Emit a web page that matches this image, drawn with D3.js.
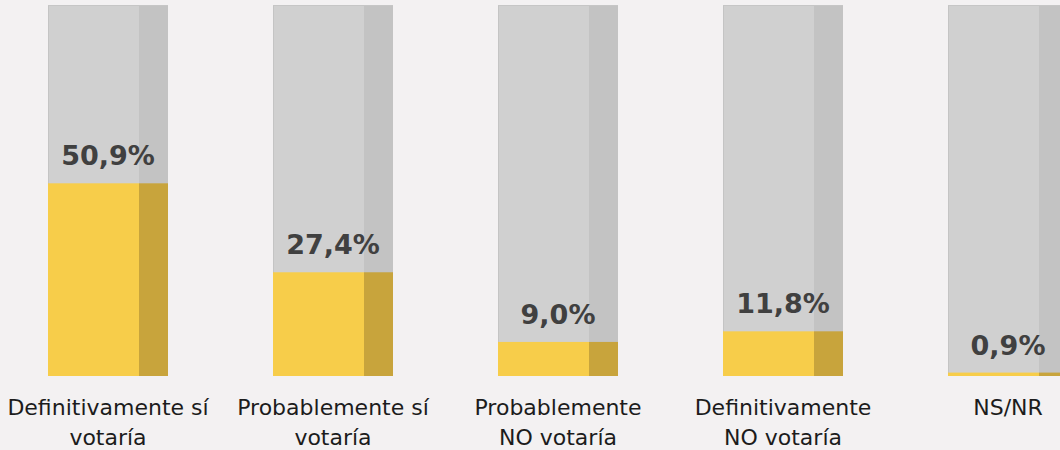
<!DOCTYPE html>
<html>
<head>
<meta charset="utf-8">
<script src="https://cdn.jsdelivr.net/npm/d3@7"></script>
<style>
  body { margin: 0; background: #f3f1f2; }
  svg { display: block; }
</style>
</head>
<body>
<script>
// data
var categories = ["Definitivamente sí votaría", "Probablemente sí votaría", "Probablemente NO votaría", "Definitivamente NO votaría", "NS/NR"];
var catLines = [["Definitivamente sí", "votaría"], ["Probablemente sí", "votaría"], ["Probablemente", "NO votaría"], ["Definitivamente", "NO votaría"], ["NS/NR"]];
var values = [50.9, 27.4, 9.0, 11.8, 0.9];
var valueLabels = ["50,9%", "27,4%", "9,0%", "11,8%", "0,9%"];

var width = 1060, height = 450;
var baseY = 376, topY = 5;
var stripFrac = 29 / 120;

var svg = d3.select("body").append("svg")
    .attr("width", width)
    .attr("height", height);

svg.append("rect")
    .attr("width", width).attr("height", height)
    .attr("fill", "#f3f1f2");

var x = d3.scaleBand()
    .domain(categories)
    .range([48, 1068])
    .paddingInner(105 / 225)
    .paddingOuter(0);

// 98% reaches the top of the grey column
var y = d3.scaleLinear()
    .domain([0, 98])
    .range([baseY, topY]);

var bw = x.bandwidth();
var mainW = bw * (1 - stripFrac);

var g = svg.selectAll("g.bar")
    .data(categories)
    .enter().append("g")
    .attr("class", "bar")
    .attr("transform", function(d) { return "translate(" + x(d) + ",0)"; });

// grey background column
g.append("rect")
    .attr("x", 0).attr("y", y(98))
    .attr("width", mainW).attr("height", y(0) - y(98))
    .attr("fill", "#d0d0d0");
g.append("rect")
    .attr("x", mainW).attr("y", y(98))
    .attr("width", bw - mainW).attr("height", y(0) - y(98))
    .attr("fill", "#c3c3c3");
g.append("line")
    .attr("x1", 0.5).attr("x2", 0.5)
    .attr("y1", y(98)).attr("y2", y(0))
    .attr("stroke", "#c4c4c4");
g.append("line")
    .attr("x1", 0).attr("x2", bw)
    .attr("y1", y(98) + 0.5).attr("y2", y(98) + 0.5)
    .attr("stroke", "#c6c6c6");

// yellow value bar
g.append("rect")
    .attr("x", 0)
    .attr("y", function(d, i) { return y(values[i]); })
    .attr("width", mainW)
    .attr("height", function(d, i) { return y(0) - y(values[i]); })
    .attr("fill", "#f7cd4a");
g.append("rect")
    .attr("x", mainW)
    .attr("y", function(d, i) { return y(values[i]); })
    .attr("width", bw - mainW)
    .attr("height", function(d, i) { return y(0) - y(values[i]); })
    .attr("fill", "#c8a43c");

// value labels
g.append("text")
    .attr("x", bw / 2)
    .attr("y", function(d, i) { return y(values[i]) - 18; })
    .attr("text-anchor", "middle")
    .attr("font-family", "DejaVu Sans, sans-serif")
    .attr("font-weight", "bold")
    .attr("font-size", 27)
    .attr("fill", "#404040")
    .text(function(d, i) { return valueLabels[i]; });

// category labels
var lab = g.append("text")
    .attr("text-anchor", "middle")
    .attr("font-family", "DejaVu Sans, sans-serif")
    .attr("font-size", 22)
    .attr("fill", "#1c1c1c");
lab.selectAll("tspan")
    .data(function(d, i) { return catLines[i]; })
    .enter().append("tspan")
    .attr("x", bw / 2)
    .attr("y", function(d, j) { return 415 + j * 30; })
    .text(function(d) { return d; });
</script>
</body>
</html>
